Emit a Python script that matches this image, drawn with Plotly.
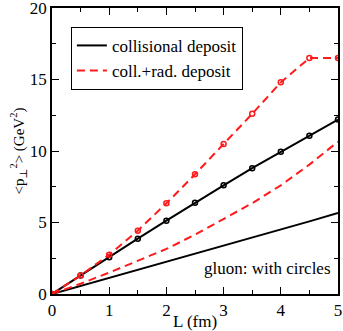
import plotly.graph_objects as go

L_vals = [0, 0.5, 1, 1.5, 2, 2.5, 3, 3.5, 4, 4.5, 5]
quark_coll = [0, 0.56, 1.12, 1.68, 2.24, 2.8, 3.37, 3.94, 4.51, 5.08, 5.66]
quark_collrad = [0, 0.72, 1.5, 2.3, 3.15, 4.15, 5.25, 6.35, 7.6, 9.05, 10.65]
gluon_coll = [0, 1.3, 2.57, 3.87, 5.13, 6.38, 7.6, 8.8, 9.95, 11.07, 12.2]
gluon_collrad = [0, 1.3, 2.75, 4.43, 6.34, 8.37, 10.49, 12.6, 14.8, 16.5, 16.5]

FONT = "'Liberation Serif', 'DejaVu Serif', serif"
RED = "#ff1a1a"
DASH = "8px,5px"

fig = go.Figure()
fig.add_trace(go.Scatter(x=L_vals, y=quark_coll, mode="lines", name="collisional deposit",
                         line=dict(color="black", width=2)))
fig.add_trace(go.Scatter(x=L_vals, y=quark_collrad, mode="lines", name="coll.+rad. deposit",
                         line=dict(color=RED, width=2, dash=DASH)))
fig.add_trace(go.Scatter(x=L_vals, y=gluon_coll, mode="lines+markers", showlegend=False,
                         line=dict(color="black", width=2),
                         marker=dict(symbol="circle-open", size=5, color="black", line=dict(width=1.5))))
fig.add_trace(go.Scatter(x=L_vals, y=gluon_collrad, mode="lines+markers", showlegend=False,
                         line=dict(color=RED, width=2, dash=DASH),
                         marker=dict(symbol="circle-open", size=5, color=RED, line=dict(width=1.5))))

axis_common = dict(showgrid=False, zeroline=False, showline=True, linecolor="black", linewidth=1.5,
                   mirror="ticks", ticks="inside", ticklen=7, tickwidth=1.2, tickcolor="black",
                   ticklabeloverflow="allow", automargin=False,
                   tickfont=dict(family=FONT, size=17, color="black"))
fig.update_xaxes(range=[0, 5], tickvals=[0, 1, 2, 3, 4, 5],
                 minor=dict(tickvals=[0.5, 1.5, 2.5, 3.5, 4.5], ticklen=4, tickwidth=1, tickcolor="black", ticks="inside"),
                 title=dict(text="L (fm)", font=dict(family=FONT, size=17, color="black"), standoff=1),
                 **axis_common)
fig.update_yaxes(range=[0, 20], tickvals=[0, 5, 10, 15, 20],
                 minor=dict(tickvals=[2.5, 7.5, 12.5, 17.5], ticklen=4, tickwidth=1, tickcolor="black", ticks="inside"),
                 title=dict(text="&lt;p<sub>⊥</sub><sup>2</sup>&gt; (GeV<sup>2</sup>)",
                            font=dict(family=FONT, size=15, color="black"), standoff=2),
                 **axis_common)

fig.add_annotation(x=4.92, y=1.75, xref="x", yref="y", text="gluon: with circles", showarrow=False,
                   xanchor="right", yanchor="middle", font=dict(family=FONT, size=17, color="black"))

fig.update_layout(
    width=343, height=331,
    margin=dict(l=52, r=5, t=8, b=37),
    font=dict(family=FONT, color="black"),
    plot_bgcolor="white", paper_bgcolor="white",
    legend=dict(x=0.066, y=0.934, xanchor="left", yanchor="top", bordercolor="black", borderwidth=1,
                bgcolor="white", font=dict(family=FONT, size=17, color="black"),
                itemwidth=30, tracegroupgap=0),
)

fig.write_html("out.html", config={"displayModeBar": False},
               post_script="document.body.style.margin='0';document.body.style.padding='0';document.body.style.overflow='hidden';")
